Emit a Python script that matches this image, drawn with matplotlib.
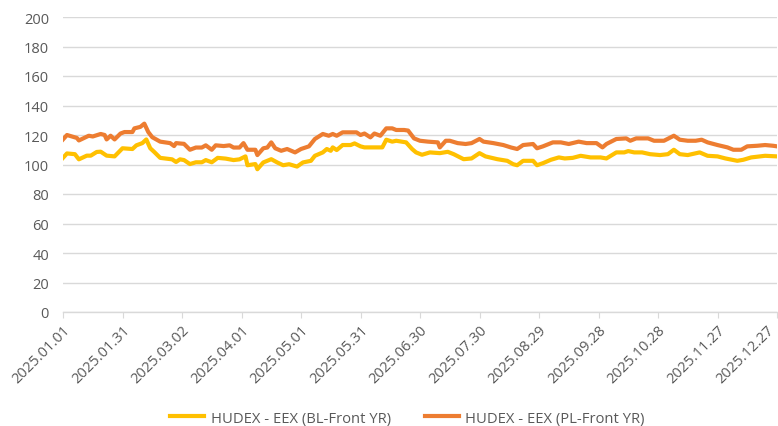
import matplotlib
matplotlib.use('Agg')
import matplotlib.pyplot as plt
import matplotlib.transforms as mtransforms
import pandas as pd
import numpy as np

# 数据 (从图上读取, 以 2025.01.01 起算的天数)
bl_day = [0, 2, 6, 8, 12, 14, 17, 19, 22, 26, 30, 35, 37, 40, 42, 44, 46, 49, 52, 55,
          57, 59, 61, 64, 67, 70, 72, 75, 78, 82, 86, 89, 92, 93, 97, 98, 101, 105, 108, 111,
          114, 118, 121, 125, 127, 131, 133, 135, 136, 138, 141, 145, 147, 150, 152, 157, 161, 163, 166, 168,
          173, 176, 178, 181, 185, 190, 194, 197, 202, 206, 210, 213, 219, 224, 227, 229, 232, 237, 239, 242,
          246, 250, 253, 257, 261, 266, 271, 274, 279, 283, 285, 288, 292, 296, 301, 305, 308, 311, 315, 321,
          325, 330, 334, 340, 343, 347, 354, 360]
bl_value = [104.5, 107.5, 107, 103.5, 106, 106, 108.5, 108.7, 106, 105.5, 111, 110.5, 113, 114.5, 117, 111, 108.5, 104.5, 104, 103.5,
            101.7, 103.5, 103, 100.3, 101.5, 101.5, 103, 101.5, 104.5, 104, 103, 103.5, 105.5, 99.5, 100.3, 96.8, 101.4, 103.6, 101.4, 99.5,
            100.2, 98.6, 101.4, 102.5, 105.9, 108.2, 110.5, 109.3, 111.6, 109.8, 113.2, 113.2, 114.3, 112.3, 111.6, 111.6, 111.6, 116.8, 115.5, 116.1,
            115, 110.5, 108.2, 106.6, 108.2, 107.7, 108.6, 107, 103.6, 104.1, 107.7, 105.5, 103.6, 102.5, 100.2, 99.5, 102.5, 102.5, 99.5, 100.9,
            103.2, 104.8, 104.1, 104.5, 105.9, 104.8, 104.8, 104.1, 108.2, 108.2, 109.1, 108.2, 108.2, 107, 106.4, 107, 110, 107, 106.4, 108.2,
            105.9, 105.5, 104.1, 102.5, 103.2, 104.8, 105.9, 105.5]

pl_day = [0, 2, 7, 8, 13, 15, 19, 21, 22, 24, 26, 29, 31, 35, 36, 39, 41, 43, 45, 49,
          54, 56, 57, 61, 64, 67, 70, 72, 75, 77, 81, 84, 86, 89, 91, 93, 97, 98, 101, 103,
          105, 107, 110, 113, 117, 120, 124, 127, 131, 134, 136, 138, 141, 145, 148, 150, 152, 155, 157, 160,
          163, 166, 168, 172, 174, 177, 180, 184, 189, 190, 193, 195, 199, 203, 206, 210, 212, 217, 222, 226,
          229, 232, 237, 239, 242, 247, 251, 255, 260, 264, 269, 272, 274, 279, 284, 286, 289, 295, 298, 303,
          308, 311, 315, 319, 322, 325, 330, 335, 338, 342, 345, 350, 354, 358, 360]
pl_value = [117, 120, 118, 116.3, 119.5, 119, 120.7, 120, 117, 119.5, 117, 121, 122, 122, 124.5, 125.5, 127.7, 122, 118.5, 115.5,
            114.5, 112.5, 114.5, 114, 110, 111.5, 111.5, 113, 110, 113, 112.5, 113, 111.5, 111.5, 114.5, 110, 110, 106.4, 111, 111.5,
            115, 111, 109.3, 110.5, 108.2, 110.5, 112.3, 117.3, 120.7, 119.5, 120.7, 119.5, 121.8, 121.8, 121.8, 120, 121, 118.4, 121, 119.5,
            124.5, 124.5, 123.4, 123.4, 123, 117.7, 116.1, 115.5, 115, 111.6, 116.1, 116.1, 114.5, 113.9, 114.5, 117.3, 115.5, 114.5, 113.2, 111.5,
            110.5, 113.2, 113.9, 111, 112.3, 115, 115, 113.9, 115.5, 114.5, 114.5, 111.6, 113.9, 117.3, 117.7, 116.1, 117.7, 117.7, 116.1, 116.1,
            119.5, 116.8, 116.1, 116.1, 116.8, 115, 113.2, 111.6, 110, 110, 112.3, 112.7, 113.2, 112.7, 112.3]

start = pd.Timestamp('2025-01-01')
bl_date = start + pd.to_timedelta(bl_day, unit='D')
pl_date = start + pd.to_timedelta(pl_day, unit='D')

plt.rcParams['font.family'] = ['Open Sans', 'DejaVu Sans']

fig = plt.figure(figsize=(7.78, 4.27), dpi=100)
ax = fig.add_axes([63 / 778, 114 / 427, 714 / 778, 295 / 427])

ax.plot(bl_date, bl_value, color='#FFC000', linewidth=3, label='HUDEX - EEX (BL-Front YR)', solid_joinstyle='round')
ax.plot(pl_date, pl_value, color='#ED7D31', linewidth=3, label='HUDEX - EEX (PL-Front YR)', solid_joinstyle='round')

ax.set_ylim(0, 200)
ax.set_yticks(np.arange(0, 201, 20))
ax.set_xlim(start, start + pd.Timedelta(days=360))
ticks = [start + pd.Timedelta(days=30 * i) for i in range(13)]
ax.set_xticks(ticks)
ax.set_xticklabels([t.strftime('%Y.%m.%d') for t in ticks], rotation=45, ha='right',
                   rotation_mode='anchor')

ax.grid(True, axis='y', color='#D9D9D9', linewidth=1)
ax.set_axisbelow(True)
for s in ['top', 'right', 'left']:
    ax.spines[s].set_visible(False)
ax.spines['bottom'].set_color('#D9D9D9')
ax.spines['bottom'].set_linewidth(1)
ax.tick_params(axis='y', length=0, pad=10, labelsize=10.5, labelcolor='#595959')
ax.tick_params(axis='x', length=4, color='#D9D9D9', pad=3, labelsize=10.5, labelcolor='#595959')

# 最后一个标签稍微左移, 不被裁掉
last = ax.get_xticklabels()[-1]
last.set_transform(last.get_transform() + mtransforms.ScaledTranslation(-10 / 100, 0, fig.dpi_scale_trans))

fig.legend(loc='lower center', bbox_to_anchor=(0.524, -0.03), ncol=2, frameon=False,
           fontsize=10.6, handlelength=2.3, columnspacing=2.3, handletextpad=0.45, labelcolor='#595959')

fig.savefig('out.png', dpi=100)
